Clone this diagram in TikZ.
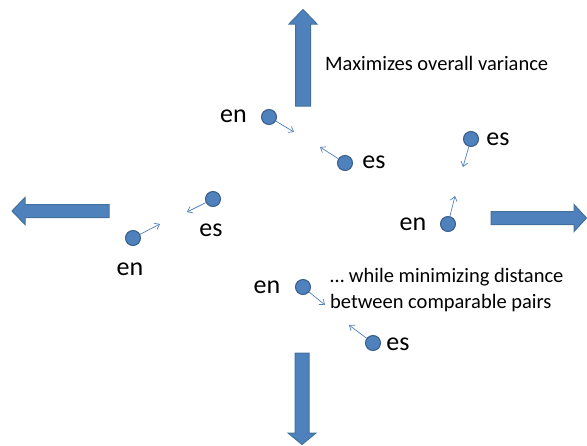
\documentclass[tikz,border=0pt]{standalone}
\usepackage{fontspec}
\setmainfont{Carlito}
\usetikzlibrary{arrows.meta}
\definecolor{dotfill}{HTML}{4F81BD}
\definecolor{dotline}{HTML}{385D8A}
\definecolor{bigline}{HTML}{41719C}
\tikzset{
  dotnode/.style={circle,minimum size=15pt,inner sep=0pt,fill=dotfill,draw=dotline,line width=1pt},
  lbl/.style={inner sep=0pt,font=\fontsize{26}{30}\selectfont},
  note/.style={inner sep=0pt,font=\fontsize{20.5}{25.5}\selectfont,align=left},
  pull/.style={draw=dotfill,line width=0.7pt,-{Straight Barb[length=4.5pt,width=7pt]}},
  bigarrow/.style={fill=dotfill,draw=bigline,line width=1pt,line join=miter}
}
\begin{document}
\begin{tikzpicture}[x=1pt,y=-1pt]
\useasboundingbox (0,0) rectangle (587,445);
% big arrows
\draw[bigarrow] (295.5,106) -- (295.5,24) -- (289,24) -- (303,9.5) -- (317,24) -- (310.5,24) -- (310.5,106) -- cycle;
\draw[bigarrow] (295,353) -- (295,433) -- (288,433) -- (302,444.5) -- (316,433) -- (309,433) -- (309,353) -- cycle;
\draw[bigarrow] (109,204.5) -- (25,204.5) -- (25,197.5) -- (12,211) -- (25,224.5) -- (25,217.5) -- (109,217.5) -- cycle;
\draw[bigarrow] (491,211.5) -- (574,211.5) -- (574,204.5) -- (586.5,218) -- (574,231.5) -- (574,224.5) -- (491,224.5) -- cycle;
% texts
\node[note,anchor=west] (t1) at (325,63) {Maximizes overall variance};
\node[note,anchor=west] (t2) at (330,290) {… while minimizing distance\\between comparable pairs};
% dots
\node[dotnode] (en1) at (269,117) {};
\node[dotnode] (es1) at (345,163) {};
\node[dotnode] (es2) at (471,139) {};
\node[dotnode] (en2) at (448,224) {};
\node[dotnode] (es3) at (213,199) {};
\node[dotnode] (en3) at (133,238) {};
\node[dotnode] (en4) at (303,287) {};
\node[dotnode] (es4) at (373,343) {};
% labels
\node[lbl] (len1) at (233.5,116) {en};
\node[lbl] (les1) at (374,162) {es};
\node[lbl] (les2) at (498,139) {es};
\node[lbl] (len2) at (413,224) {en};
\node[lbl] (les3) at (211,230) {es};
\node[lbl] (len3) at (130,269) {en};
\node[lbl] (len4) at (267,287) {en};
\node[lbl] (les4) at (398,344) {es};
% arrow ends
\coordinate (a1) at (294,132);
\coordinate (a2) at (320,147);
\coordinate (a3) at (463,167);
\coordinate (a4) at (455,196);
\coordinate (a5) at (187,212);
\coordinate (a6) at (160,224);
\coordinate (a7) at (325,305);
\coordinate (a8) at (349,325);
\draw[pull] (en1) -- (a1);
\draw[pull] (es1) -- (a2);
\draw[pull] (es2) -- (a3);
\draw[pull] (en2) -- (a4);
\draw[pull] (es3) -- (a5);
\draw[pull] (en3) -- (a6);
\draw[pull] (en4) -- (a7);
\draw[pull] (es4) -- (a8);
\end{tikzpicture}
\end{document}
